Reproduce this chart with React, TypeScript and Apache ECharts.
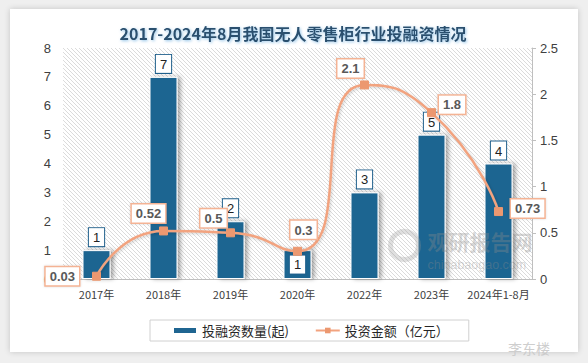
import React, { useEffect, useRef } from "react";
import * as echarts from "echarts";

const categories = ["2017年", "2018年", "2019年", "2020年", "2022年", "2023年", "2024年1-8月"];
const dealCounts = [1, 7, 2, 1, 3, 5, 4];
const investAmounts = [0.03, 0.52, 0.5, 0.3, 2.1, 1.8, 0.73];
const leftTicks = { min: 0, max: 8, interval: 1 };
const rightTicks = { min: 0, max: 2.5, interval: 0.5 };
const titleText = "2017-2024年8月我国无人零售柜行业投融资情况";
const barName = "投融资数量(起)";
const lineName = "投资金额（亿元）";

// label placement styling (not data)
const lineLabelPos: { position: string; offset: number[]; distance?: number }[] = [
  { position: "left", offset: [0, 0], distance: 13 },
  { position: "top", offset: [-15, 1] },
  { position: "top", offset: [-17, 4] },
  { position: "top", offset: [6, -3] },
  { position: "top", offset: [-14, 2] },
  { position: "right", offset: [-2, -8] },
  { position: "right", offset: [3, -3] },
];
const barLabelPos = ["top", "top", "top", "inside", "top", "top", "top"];

const FONT = "'Liberation Sans', 'Noto Sans CJK SC', sans-serif";

const hatchSvg =
  "data:image/svg+xml;utf8," +
  encodeURIComponent(
    "<svg xmlns='http://www.w3.org/2000/svg' width='4' height='4'>" +
      "<rect width='4' height='4' fill='white'/>" +
      "<path d='M-1,-1 L5,5 M-1,3 L1,5 M3,-1 L5,1' stroke='#d2d2d2' stroke-width='0.8'/>" +
      "</svg>"
  );

export default function App() {
  const ref = useRef<HTMLDivElement>(null);
  useEffect(() => {
    if (!ref.current) return;
    const chart = echarts.init(ref.current, undefined, { renderer: "svg" });
    chart.setOption({
      animation: false,
      textStyle: { fontFamily: FONT },
      title: {
        text: titleText,
        left: 288,
        top: 20,
        textAlign: "center",
        textStyle: {
          fontFamily: "'Noto Sans CJK SC', sans-serif",
          fontSize: 16,
          fontWeight: "bold",
          color: "#2b4f6e",
          textShadowColor: "rgba(120,180,225,0.8)",
          textShadowBlur: 3,
          textShadowOffsetX: 1,
          textShadowOffsetY: 1,
        },
      },
      legend: {
        left: 150,
        top: 320,
        width: 288,
        height: 23,
        borderColor: "#d0d0d0",
        borderWidth: 1,
        padding: [4, 20, 4, 22],
        itemGap: 26,
        itemWidth: 24,
        itemHeight: 7,
        textStyle: {
          fontFamily: "'Noto Sans CJK SC', sans-serif",
          fontSize: 13,
          color: "#262626",
        },
        data: [
          { name: barName, icon: "rect" },
          { name: lineName },
        ],
      },
      grid: { left: 63, right: 56, top: 48, bottom: 84 },
      xAxis: {
        type: "category",
        data: categories,
        axisLine: { lineStyle: { color: "#bfbfbf" } },
        axisTick: { show: false },
        axisLabel: {
          interval: 0,
          fontSize: 11,
          color: "#404040",
          margin: 9,
          fontFamily: "'Noto Sans CJK SC', sans-serif",
        },
      },
      yAxis: [
        {
          type: "value",
          ...leftTicks,
          splitLine: { show: false },
          axisLine: { show: false },
          axisTick: { show: false },
          axisLabel: { fontSize: 13, color: "#404040", margin: 12 },
        },
        {
          type: "value",
          ...rightTicks,
          position: "right",
          splitLine: { show: false },
          axisLine: { show: true, lineStyle: { color: "#bfbfbf" } },
          axisTick: { show: true, length: 4, lineStyle: { color: "#bfbfbf" } },
          axisLabel: { fontSize: 13, color: "#404040", margin: 8 },
        },
      ],
      series: [
        {
          name: barName,
          type: "bar",
          yAxisIndex: 0,
          barWidth: 28,
          data: dealCounts.map((v, i) => ({
            value: v,
            label: { position: barLabelPos[i] },
          })),
          itemStyle: {
            color: "#1f6591",
            borderColor: "#ffffff",
            borderWidth: 1,
            shadowColor: "rgba(0,0,0,0.35)",
            shadowBlur: 4,
            shadowOffsetX: 3,
            shadowOffsetY: 0,
          },
          label: {
            show: true,
            position: "top",
            distance: 4,
            fontSize: 13,
            color: "#222222",
            backgroundColor: "#ffffff",
            borderColor: "#1f5f8b",
            borderWidth: 1,
            padding: [3, 4, 2, 4],
          },
          z: 2,
        },
        {
          name: lineName,
          type: "line",
          yAxisIndex: 1,
          smooth: 0.6,
          symbol: "rect",
          symbolSize: 8,
          data: investAmounts.map((v, i) => ({
            value: v,
            label: {
              position: lineLabelPos[i].position,
              offset: lineLabelPos[i].offset,
              distance: lineLabelPos[i].distance ?? 5,
            },
          })),
          lineStyle: {
            color: "#f2a37f",
            width: 2.5,
            shadowColor: "rgba(0,0,0,0.2)",
            shadowBlur: 3,
            shadowOffsetX: 1,
            shadowOffsetY: 1,
          },
          itemStyle: { color: "#ec9870", borderColor: "#ec9870" },
          label: {
            show: true,
            fontSize: 13,
            fontWeight: "bold",
            color: "#595959",
            backgroundColor: "#ffffff",
            borderColor: "#f4b394",
            borderWidth: 1.5,
            padding: [3, 4, 2, 4],
            shadowColor: "rgba(0,0,0,0.15)",
            shadowBlur: 2,
          },
          z: 3,
        },
      ],
      graphic: [
        {
          type: "group",
          left: 388,
          top: 229,
          z: 5,
          silent: true,
          children: [
            {
              type: "circle",
              z: 5,
              shape: { cx: 22, cy: 17, r: 14 },
              style: { fill: "none", stroke: "rgba(150,150,150,0.3)", lineWidth: 5 },
            },
            {
              type: "text",
              z: 5,
              x: 45,
              y: 2,
              style: {
                text: "观研报告网",
                font: "bold 21px 'Noto Sans CJK SC', sans-serif",
                fill: "rgba(140,140,140,0.35)",
              },
            },
            {
              type: "text",
              z: 5,
              x: 45,
              y: 30,
              style: {
                text: "chinabaogao.com",
                font: "12.5px 'Liberation Sans', sans-serif",
                fill: "rgba(140,140,140,0.35)",
              },
            },
          ],
        },
        {
          type: "text",
          left: 508,
          top: 341,
          z: 10,
          style: {
            text: "李东楼",
            font: "14px 'Noto Sans CJK SC', sans-serif",
            fill: "rgba(200,200,200,0.9)",
          },
        },
      ],
    });
    return () => chart.dispose();
  }, []);

  return (
    <div
      style={{
        position: "fixed",
        left: 0,
        top: 0,
        width: 588,
        height: 363,
        background: "#efefef",
        overflow: "hidden",
      }}
    >
      <div
        style={{
          position: "absolute",
          left: 10,
          top: 9,
          width: 568,
          height: 343,
          background: "#ffffff",
          boxShadow: "0 0 6px rgba(0,0,0,0.18)",
        }}
      />
      <div
        style={{
          position: "absolute",
          left: 63,
          top: 48,
          width: 469,
          height: 231,
          backgroundImage: `url("${hatchSvg}")`,
          backgroundRepeat: "repeat",
          backgroundSize: "4px 4px",
        }}
      />
      <div
        ref={ref}
        style={{ position: "absolute", left: 0, top: 0, width: 588, height: 363 }}
      />
    </div>
  );
}
